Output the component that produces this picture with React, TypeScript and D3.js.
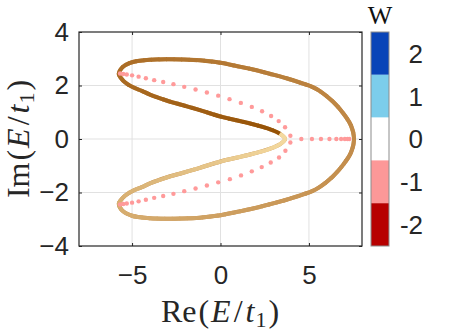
import React, { useEffect, useRef } from 'react';
import * as d3 from 'd3';

// axis ticks
const xTicks = [-5, 0, 5];
const yTicks = [-4, -2, 0, 2, 4];

// winding number colour bar
const windingValues = [2, 1, 0, -1, -2];
const windingColors = ['#0844b8', '#7ccdeb', '#ffffff', '#fc9898', '#b70000'];

// PBC loop, starting at the inner cusp and going round once
const innerUpper = [
  [3.65, 0], [3.35, 0.2], [2.78, 0.37], [1.84, 0.55], [0.9, 0.7], [0, 0.84],
  [-1.17, 1.08], [-2.11, 1.26], [-3.05, 1.44], [-3.99, 1.66], [-4.45, 1.8],
  [-5.0, 1.95], [-5.4, 2.12], [-5.65, 2.3], [-5.75, 2.42],
];
const outerUpper = [
  [-5.55, 2.68], [-5.0, 2.87], [-4.0, 2.96], [-3.05, 2.98], [-2.1, 2.97],
  [-1.17, 2.94], [0, 2.85], [0.9, 2.73], [1.84, 2.6], [2.78, 2.44], [3.73, 2.27],
  [4.67, 2.07], [5.15, 1.96], [5.6, 1.8], [6.35, 1.4], [6.95, 0.95], [7.38, 0.5], [7.55, 0],
];
const outerLower = [
  [7.38, -0.5], [6.95, -0.95], [6.35, -1.4], [5.6, -1.8], [5.15, -1.96], [4.67, -2.07],
  [3.73, -2.27], [2.78, -2.44], [1.84, -2.6], [0.9, -2.73], [0, -2.85],
  [-1.17, -2.94], [-2.1, -2.97], [-3.05, -2.98], [-4.0, -2.96], [-5.0, -2.87],
  [-5.55, -2.68], [-5.75, -2.42],
];
const innerLower = [
  [-5.65, -2.3], [-5.4, -2.12], [-5.0, -1.95], [-4.45, -1.8], [-3.99, -1.66],
  [-3.05, -1.44], [-2.11, -1.26], [-1.17, -1.08], [0, -0.84], [0.9, -0.7],
  [1.84, -0.55], [2.78, -0.37], [3.35, -0.2],
];
const loopColors = ['#955105', '#ab6d25', '#c28b4a', '#d8b072', '#f5dba1'];

// OBC eigenvalues
const obcUpper = [
  [-5.68, 2.45], [-5.5, 2.43], [-5.3, 2.41], [-5.0, 2.38], [-4.63, 2.33],
  [-4.22, 2.27], [-3.75, 2.2], [-3.24, 2.13], [-2.66, 2.05], [-2.05, 1.95],
  [-1.41, 1.85], [-0.77, 1.74], [-0.13, 1.62], [0.51, 1.49], [1.15, 1.35],
  [1.77, 1.2], [2.35, 1.04], [2.86, 0.86], [3.29, 0.67], [3.65, 0.44], [3.95, 0.12],
];
const obcLower = [
  [-5.68, -2.45], [-5.5, -2.43], [-5.3, -2.41], [-5.0, -2.38], [-4.63, -2.33],
  [-4.22, -2.27], [-3.75, -2.2], [-3.24, -2.13], [-2.66, -2.05], [-2.05, -1.95],
  [-1.41, -1.85], [-0.77, -1.74], [-0.13, -1.62], [0.53, -1.5], [1.16, -1.36],
  [1.77, -1.21], [2.33, -1.05], [2.84, -0.88], [3.31, -0.69], [3.67, -0.44], [3.95, -0.13],
];
const obcReal = [4.57, 5.17, 5.68, 6.16, 6.55, 6.82, 7.03, 7.18, 7.28];

const App = () => {
  const chartRef = useRef(null);

  useEffect(() => {
    d3.select(chartRef.current).selectAll('*').remove();

    const width = 449;
    const height = 333;
    const box = { left: 79, right: 362, top: 32, bottom: 246 };
    const axisColor = '#262626';
    const tickFont = 'Liberation Sans, Arial, sans-serif';
    const serif = 'Liberation Serif, Times New Roman, serif';

    const svg = d3.select(chartRef.current)
      .append('svg')
      .attr('width', width)
      .attr('height', height)
      .style('position', 'absolute')
      .style('left', 0)
      .style('top', 0)
      .style('background', '#fff');

    const x = d3.scaleLinear().domain([-8, 8]).range([box.left, box.right]);
    const y = d3.scaleLinear().domain([-4, 4]).range([box.bottom, box.top]);

    // grid
    svg.append('g')
      .selectAll('line')
      .data(xTicks)
      .enter().append('line')
      .attr('x1', d => x(d)).attr('x2', d => x(d))
      .attr('y1', box.top).attr('y2', box.bottom)
      .attr('stroke', '#e1e1e1').attr('stroke-width', 1);
    svg.append('g')
      .selectAll('line')
      .data(yTicks.slice(1, -1))
      .enter().append('line')
      .attr('x1', box.left).attr('x2', box.right)
      .attr('y1', d => y(d)).attr('y2', d => y(d))
      .attr('stroke', '#e1e1e1').attr('stroke-width', 1);

    // loop, coloured along its length
    const loop = [...innerUpper, ...outerUpper, ...outerLower, ...innerLower];
    const px = loop.map(d => [x(d[0]), y(d[1])]);
    let acc = 0;
    const cum = px.map((p, i) => {
      if (i > 0) acc += Math.hypot(p[0] - px[i - 1][0], p[1] - px[i - 1][1]);
      return acc;
    });
    const total = acc + Math.hypot(px[0][0] - px[px.length - 1][0], px[0][1] - px[px.length - 1][1]);
    const i1 = innerUpper.length - 1;
    const i2 = i1 + outerUpper.length;
    const i3 = i2 + outerLower.length;
    const color = d3.scaleLinear()
      .domain([0, cum[i1] / total, cum[i2] / total, cum[i3] / total, 1])
      .range(loopColors);

    const line = d3.line()
      .x(d => x(d[0]))
      .y(d => y(d[1]))
      .curve(d3.curveCatmullRomClosed.alpha(0.5));
    const dPath = line(loop);

    const loopG = svg.append('g');
    const base = loopG.append('path')
      .attr('d', dPath)
      .attr('fill', 'none')
      .attr('stroke', loopColors[2])
      .attr('stroke-width', 4);
    const L = base.node().getTotalLength();
    const n = 120;
    const seg = L / n;
    d3.range(n).forEach(i => {
      loopG.append('path')
        .attr('d', dPath)
        .attr('fill', 'none')
        .attr('stroke', color((i + 0.5) / n))
        .attr('stroke-width', 4)
        .attr('stroke-dasharray', `${seg + 1},${L * 2}`)
        .attr('stroke-dashoffset', -i * seg);
    });

    // OBC dots
    const dots = [...obcUpper, ...obcLower, ...obcReal.map(v => [v, 0])];
    svg.append('g')
      .selectAll('circle')
      .data(dots)
      .enter().append('circle')
      .attr('cx', d => x(d[0]))
      .attr('cy', d => y(d[1]))
      .attr('r', 2.2)
      .attr('fill', '#ff9a9a');

    // axes
    const styleAxis = g => {
      g.select('.domain').remove();
      g.selectAll('line').attr('stroke', axisColor);
      g.selectAll('text')
        .attr('fill', axisColor)
        .style('font-family', tickFont)
        .style('font-size', '26px');
    };
    svg.append('g')
      .attr('transform', `translate(0,${box.bottom})`)
      .call(d3.axisBottom(x).tickValues(xTicks).tickSizeInner(-3).tickSizeOuter(0).tickPadding(20))
      .call(styleAxis);
    svg.append('g')
      .attr('transform', `translate(${box.left},0)`)
      .call(d3.axisLeft(y).tickValues(yTicks).tickSizeInner(-3).tickSizeOuter(0).tickPadding(10))
      .call(styleAxis);
    svg.append('g')
      .attr('transform', `translate(0,${box.top})`)
      .call(d3.axisTop(x).tickValues(xTicks).tickSizeInner(-3).tickSizeOuter(0).tickFormat(() => ''))
      .call(styleAxis);
    svg.append('g')
      .attr('transform', `translate(${box.right},0)`)
      .call(d3.axisRight(y).tickValues(yTicks).tickSizeInner(-3).tickSizeOuter(0).tickFormat(() => ''))
      .call(styleAxis);

    svg.append('rect')
      .attr('x', box.left).attr('y', box.top)
      .attr('width', box.right - box.left).attr('height', box.bottom - box.top)
      .attr('fill', 'none').attr('stroke', axisColor).attr('stroke-width', 1.2);

    // axis labels, math-style spacing
    const mathLabel = (g, head) => {
      const t = g.append('text')
        .attr('fill', axisColor)
        .attr('text-anchor', 'middle')
        .style('font-family', serif)
        .style('font-size', '32px');
      t.append('tspan').text(head);
      t.append('tspan').attr('dx', 2).text('(');
      t.append('tspan').attr('dx', 2).attr('font-style', 'italic').text('E');
      t.append('tspan').attr('dx', 3).text('/');
      t.append('tspan').attr('dx', 3).attr('font-style', 'italic').text('t');
      t.append('tspan').attr('dx', 1).attr('font-size', '22px').attr('dy', 5).text('1');
      t.append('tspan').attr('dx', 2).attr('dy', -5).text(')');
      return t;
    };
    mathLabel(svg, 'Re').attr('x', 220).attr('y', 322);
    mathLabel(svg.append('g').attr('transform', 'translate(29,139) rotate(-90)'), 'Im')
      .attr('x', 0).attr('y', 0);

    // colour bar
    const cb = { left: 371, right: 389 };
    const band = d3.scaleBand().domain(windingValues).range([box.top, box.bottom]);
    svg.append('g')
      .selectAll('rect')
      .data(windingValues)
      .enter().append('rect')
      .attr('x', cb.left)
      .attr('y', d => band(d))
      .attr('width', cb.right - cb.left)
      .attr('height', band.bandwidth())
      .attr('fill', (d, i) => windingColors[i]);
    svg.append('rect')
      .attr('x', cb.left).attr('y', box.top)
      .attr('width', cb.right - cb.left).attr('height', box.bottom - box.top)
      .attr('fill', 'none').attr('stroke', '#8c8c8c').attr('stroke-width', 1);
    svg.append('g')
      .selectAll('text')
      .data(windingValues)
      .enter().append('text')
      .attr('x', 423)
      .attr('y', d => band(d) + band.bandwidth() / 2)
      .attr('dy', '0.36em')
      .attr('text-anchor', 'end')
      .attr('fill', axisColor)
      .style('font-family', tickFont)
      .style('font-size', '26px')
      .text(d => d);
    svg.append('text')
      .attr('x', 380).attr('y', 24)
      .attr('text-anchor', 'middle')
      .attr('fill', '#111')
      .style('font-family', serif)
      .style('font-size', '26px')
      .text('W');
  }, []);

  return <div ref={chartRef}></div>;
};

export default App;
